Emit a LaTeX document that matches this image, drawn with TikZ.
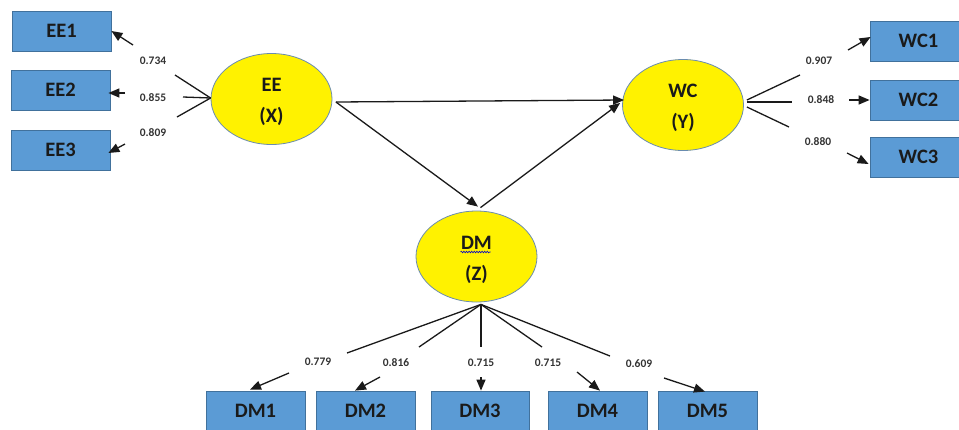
\documentclass[tikz,border=0pt]{standalone}
\usepackage{fontspec}
\setmainfont{Carlito}
\usetikzlibrary{arrows.meta,shapes.geometric,decorations.pathmorphing}
\definecolor{boxblue}{HTML}{5B9BD5}
\definecolor{boxedge}{HTML}{41719C}
\definecolor{elledge}{HTML}{6A8CAF}
\definecolor{inkc}{HTML}{1A1A1A}
\begin{document}
\begin{tikzpicture}[x=1pt,y=-1pt,
  ind/.style={draw=boxedge, fill=boxblue, line width=0.8pt, minimum width=99pt, minimum height=40pt, inner sep=0pt, font=\fontsize{20.5}{22}\selectfont\bfseries, text=inkc},
  lat/.style={ellipse, draw=elledge, fill=yellow, line width=0.8pt, minimum width=121pt, minimum height=91pt, inner sep=0pt, align=center, font=\fontsize{20.5}{31}\selectfont\bfseries, text=inkc},
  ld/.style={line width=1.3pt, draw=inkc},
  arr/.style={ld, -{Triangle[length=11pt,width=9pt]}},
  lab/.style={font=\fontsize{11.5}{13}\selectfont\bfseries, text=black!80, inner sep=0pt}
]
\useasboundingbox (0,0) rectangle (959,429);
\clip (0,0) rectangle (959,429);
\fill[white] (0,0) rectangle (959,429);

% latent variables
\node[lat] (EE) at (271.5,99) {\rule{0pt}{20pt}EE\\(X)};
\node[lat] (WC) at (683,105) {\rule{0pt}{20pt}WC\\(Y)};
\node[lat] (DM) at (476.5,256.5) {\rule{0pt}{20pt}DM\\(Z)};
\draw[blue!80!black, line width=0.6pt, decorate, decoration={snake, amplitude=0.8pt, segment length=2.6pt}]
  ([shift={(-16,-4.5)}]DM.center) -- ([shift={(14,-4.5)}]DM.center);

% indicators
\node[ind] (EE1) at (61.5,31) {EE1};
\node[ind] (EE2) at (60.5,90) {EE2};
\node[ind] (EE3) at (60.5,150) {EE3};
\node[ind, minimum width=97pt] (WC1) at (918.5,41) {WC1};
\node[ind, minimum width=97pt] (WC2) at (918.5,100) {WC2};
\node[ind, minimum width=97pt] (WC3) at (918.5,157) {WC3};
\node[ind] (DM1) at (255.5,411) {DM1};
\node[ind] (DM2) at (365.5,411) {DM2};
\node[ind, minimum width=98pt] (DM3) at (480,411) {DM3};
\node[ind] (DM4) at (597.5,411) {DM4};
\node[ind] (DM5) at (707.5,411) {DM5};

% structural paths
\draw[arr] ([shift={(3.5,3)}]EE.east) -- ([shift={(2,-5)}]WC.west);
\draw[arr] ([shift={(3.5,3)}]EE.east) -- ([shift={(1.5,-4)}]DM.north);
\draw[arr] ([shift={(4,-3)}]DM.north) -- ([shift={(-2,-2)}]WC.west);

% EE loadings
\coordinate (eL1) at (175,75);
\coordinate (eL2) at (183,97);
\coordinate (eL3) at (177,117);
\draw[ld] ([shift={(0,-1)}]EE.west) -- (eL1);
\draw[ld] ([shift={(0,-1)}]EE.west) -- (eL2);
\draw[ld] ([shift={(0,-1)}]EE.west) -- (eL3);
\node[lab] (lE1) at (153,61) {0.734};
\node[lab] (lE2) at (153,98) {0.855};
\node[lab] (lE3) at (153,133) {0.809};
\coordinate (eA1) at (133,45);
\coordinate (eA2) at (125,93);
\coordinate (eA3) at (125,144);
\draw[arr] (eA1) -- (EE1.east);
\draw[arr] (eA2) -- ([shift={(-2,3)}]EE2.east);
\draw[arr] (eA3) -- ([shift={(-2,3)}]EE3.east);

% WC loadings
\coordinate (wL1) at (800,75);
\coordinate (wL2) at (792,102);
\coordinate (wL3) at (789,127);
\draw[ld] ([shift={(3,-5)}]WC.east) -- (wL1);
\draw[ld] ([shift={(3,-3)}]WC.east) -- (wL2);
\draw[ld] ([shift={(3,2)}]WC.east) -- (wL3);
\node[lab] (lW1) at (819,61) {0.907};
\node[lab] (lW2) at (821,100) {0.848};
\node[lab] (lW3) at (818,142) {0.880};
\coordinate (wA1) at (848,50);
\coordinate (wA2) at (849,100);
\coordinate (wA3) at (847,153);
\draw[arr] (wA1) -- ([shift={(1,-4)}]WC1.west);
\draw[arr] (wA2) -- (WC2.west);
\draw[arr] (wA3) -- ([shift={(-1,7)}]WC3.west);

% DM loadings
\coordinate (dL1) at (347,353);
\coordinate (dL2) at (419,347);
\coordinate (dL3) at (481,347);
\coordinate (dL4) at (542,347);
\coordinate (dL5) at (610,356);
\foreach \i in {1,...,5} \draw[ld] ([shift={(4.5,2)}]DM.south) -- (dL\i);
\node[lab] (lD1) at (318,362) {0.779};
\node[lab] (lD2) at (396,363) {0.816};
\node[lab] (lD3) at (481,363) {0.715};
\node[lab] (lD4) at (548,363) {0.715};
\node[lab] (lD5) at (639,364) {0.609};
\coordinate (dA1) at (289,373);
\coordinate (dA2) at (380,377);
\coordinate (dA3) at (481,377);
\coordinate (dA4) at (577,372);
\coordinate (dA5) at (664,378);
\draw[arr] (dA1) -- ([shift={(-5.5,-1)}]DM1.north);
\draw[arr] (dA2) -- ([shift={(-10.5,0)}]DM2.north);
\draw[arr] (dA3) -- ([shift={(1,0)}]DM3.north);
\draw[arr] (dA4) -- ([shift={(2.5,0)}]DM4.north);
\draw[arr] (dA5) -- ([shift={(-2.5,1)}]DM5.north);
\end{tikzpicture}
\end{document}
